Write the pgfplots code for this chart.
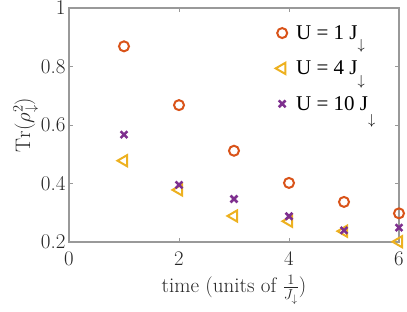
\documentclass[border=0pt]{standalone}
\usepackage{fontspec}
\usepackage{pgfplots}
\pgfplotsset{compat=1.18}
\newfontfamily\tnr{Liberation Serif}
\definecolor{morange}{rgb}{0.85,0.325,0.098}
\definecolor{myellow}{rgb}{0.929,0.694,0.125}
\definecolor{mpurple}{rgb}{0.494,0.184,0.556}
\definecolor{axgray}{rgb}{0.6,0.6,0.6}
\newcommand{\dn}{\raisebox{-1.1ex}{$\scriptstyle\downarrow$}}
\begin{document}
\begin{tikzpicture}
\path[use as bounding box] (-69pt,-69pt) rectangle (338pt,242pt);
\begin{axis}[
  at={(0,0)}, anchor=south west,
  scale only axis, width=330pt, height=234pt,
  axis lines=box,
  xmin=0, xmax=6, ymin=0.2, ymax=1,
  xtick={0,2,4,6}, ytick={0.2,0.4,0.6,0.8,1},
  yticklabels={0.2,0.4,0.6,0.8,1},
  tick align=inside, major tick length=4pt,
  axis line style={draw=axgray, line width=1.1pt},
  tick style={draw=axgray, line width=0.8pt},
  tick label style={font=\fontsize{21}{25}\selectfont, text=black!85},
  xticklabel style={yshift=-7pt},
  label style={font=\fontsize{21}{25}\selectfont, text=black!85},
  xlabel={time (units of $\frac{1}{J_\downarrow}$)},
  ylabel={$\mathrm{Tr}(\rho_\downarrow^2)$},
  xlabel style={yshift=-2pt},
  ylabel style={yshift=-4pt},
  clip=false,
  legend style={at={(axis cs:3.7,0.955)}, anchor=north west, draw=none, fill=none,
    font=\fontsize{21}{25}\selectfont\tnr, row sep=16pt, column sep=7pt, inner ysep=2pt},
  legend cell align=left,
]
\addplot[only marks, mark=o, mark size=5pt, line width=2pt, color=morange]
  coordinates {(1,0.869) (2,0.668) (3,0.512) (4,0.402) (5,0.337) (6,0.298)};
\addlegendentry{U = 1 J\dn}
\addplot[only marks, mark=triangle, mark size=6.5pt, mark options={rotate=90}, line width=2pt, color=myellow]
  coordinates {(1,0.478) (2,0.378) (3,0.289) (4,0.271) (5,0.237) (6,0.201)};
\addlegendentry{U = 4 J\dn}
\addplot[only marks, mark=x, mark size=4.8pt, line width=2.5pt, color=mpurple]
  coordinates {(1,0.567) (2,0.395) (3,0.347) (4,0.288) (5,0.240) (6,0.249)};
\addlegendentry{U = 10 J\raisebox{-0.4ex}{\dn}}
\end{axis}
\end{tikzpicture}
\end{document}
